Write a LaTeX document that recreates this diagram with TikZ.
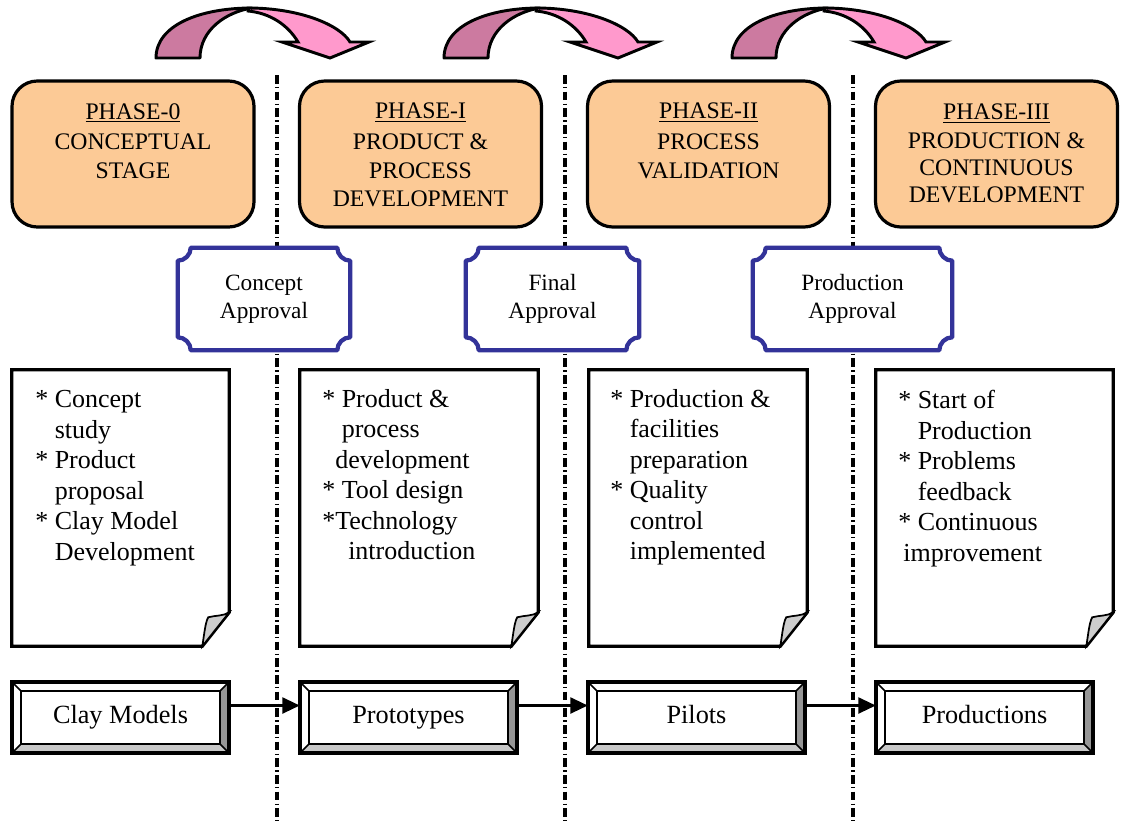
\documentclass[tikz,border=0pt]{standalone}
\usepackage{fontspec}
\setmainfont{Liberation Serif}
\usetikzlibrary{arrows.meta,calc}
\definecolor{peach}{RGB}{252,202,150}
\definecolor{plqblue}{RGB}{51,51,153}
\definecolor{pinklight}{RGB}{255,153,204}
\definecolor{pinkdark}{RGB}{204,122,160}
\definecolor{bevR}{RGB}{150,150,150}
\definecolor{bevB}{RGB}{200,200,200}
\definecolor{flapgray}{RGB}{205,205,205}
\tikzset{
  phasebox/.style={draw=black,line width=2.4pt,fill=peach,rounded corners=19pt,
    minimum width=0.75*242pt,minimum height=0.75*146pt,inner sep=0pt},
  phasetext/.style={anchor=north,inner sep=0pt,align=center,
    font=\fontsize{17.8}{21.2}\selectfont},
  apprnode/.style={inner sep=0pt,align=center,minimum height=0.75*102pt,
    font=\fontsize{17.5}{21}\selectfont},
  plq/.style={draw=plqblue,line width=3.2pt,fill=white,line join=round},
  docnode/.style={inner sep=0pt,minimum height=0.75*276pt},
  docline/.style={draw=black,line width=2.4pt,fill=white,line join=miter},
  flap/.style={draw=black,line width=1.3pt,fill=flapgray},
  doctext/.style={anchor=north west,inner sep=0pt,align=left,
    font=\fontsize{19.5}{22.9}\selectfont},
  bevnode/.style={inner sep=0pt,minimum width=0.75*217pt,minimum height=0.75*71pt,
    text height=12pt,text depth=3.75pt,
    font=\fontsize{19.7}{22}\selectfont},
  sepline/.style={line width=2.6pt,dash pattern=on 6.5pt off 2.4pt on 1.2pt off 2.4pt},
  flowarrow/.style={line width=1.6pt,-{Triangle[length=13pt,width=12pt]}},
  arrowdark/.style={draw=black,line width=2.2pt,fill=pinkdark,line join=round},
  arrowlight/.style={draw=black,line width=2.2pt,fill=pinklight,line join=miter},
}
\newcommand\plaque[1]{%
  \path[plq] ($(#1.north west)+(13,0)$) -- ($(#1.north east)+(-13,0)$)
   .. controls ($(#1.north east)+(-13,7)$) and ($(#1.north east)+(-7,13)$) .. ($(#1.north east)+(0,13)$)
   -- ($(#1.south east)+(0,-13)$)
   .. controls ($(#1.south east)+(-7,-13)$) and ($(#1.south east)+(-13,-7)$) .. ($(#1.south east)+(-13,0)$)
   -- ($(#1.south west)+(13,0)$)
   .. controls ($(#1.south west)+(13,-7)$) and ($(#1.south west)+(7,-13)$) .. ($(#1.south west)+(0,-13)$)
   -- ($(#1.north west)+(0,13)$)
   .. controls ($(#1.north west)+(7,13)$) and ($(#1.north west)+(13,7)$) .. ($(#1.north west)+(13,0)$) -- cycle;}
\newcommand\docshape[1]{%
  \path[docline] (#1.north west) -- (#1.north east) -- ($(#1.south east)+(0,-34)$)
    -- ($(#1.south east)+(-27,0)$) -- (#1.south west) -- cycle;
  \path[flap] ($(#1.south east)+(-27,0)$) .. controls ($(#1.south east)+(-25,-12)$) and ($(#1.south east)+(-24,-24)$) ..
    ($(#1.south east)+(-21,-29)$) .. controls ($(#1.south east)+(-14,-31)$) and ($(#1.south east)+(-6,-30)$) ..
    ($(#1.south east)+(0,-34)$) -- cycle;}
\newcommand\bevel[1]{%
  \fill[bevR] (#1.north east) -- (#1.south east) -- ($(#1.south east)+(-9,-9)$) -- ($(#1.north east)+(-9,9)$) -- cycle;
  \fill[bevB] (#1.south west) -- (#1.south east) -- ($(#1.south east)+(-9,-9)$) -- ($(#1.south west)+(9,-9)$) -- cycle;
  \draw[line width=1.7pt] ($(#1.north west)+(9,9)$) rectangle ($(#1.south east)+(-9,-9)$);
  \draw[line width=1.1pt] (#1.north west) -- ($(#1.north west)+(9,9)$)
     (#1.north east) -- ($(#1.north east)+(-9,9)$)
     (#1.south west) -- ($(#1.south west)+(9,-9)$)
     (#1.south east) -- ($(#1.south east)+(-9,-9)$);
  \draw[line width=2.8pt] (#1.north west) rectangle (#1.south east);}
\newcommand\curvedarrow[1]{%
  \begin{scope}[shift={(#1,0)}]
   \path[arrowdark] (156,58) .. controls (156,25) and (200,8) .. (252,8)
      .. controls (226,12) and (200,30) .. (200,58) -- cycle;
   \path[arrowlight] (248,8) .. controls (300,8) and (340,25) .. (350,42) -- (369,42) -- (330,58)
      -- (282,42) -- (298,42) .. controls (288,25) and (270,13) .. (248,11) -- cycle;
  \end{scope}}
\begin{document}
\begin{tikzpicture}[x=0.75pt,y=-0.75pt]
\useasboundingbox (0,0) rectangle (1131,821);
% separator lines
\foreach \i/\xx in {1/277,2/565,3/853}{
  \coordinate (s\i t) at (\xx,75);
  \coordinate (s\i b) at (\xx,821);
  \draw[sepline] (s\i t) -- (s\i b);
}
% curved arrows
\curvedarrow{0}
\curvedarrow{288}
\curvedarrow{576}
% phase boxes
\node[phasebox] (p0) at (133,154) {};
\node[phasebox] (p1) at (420.5,154) {};
\node[phasebox] (p2) at (708.5,154) {};
\node[phasebox] (p3) at (996.5,154) {};
\node[phasetext] (t0) at (133,103) {\underline{PHASE-0}\\[2pt]CONCEPTUAL\\STAGE};
\node[phasetext] (t1) at (420.5,103) {\underline{PHASE-I}\\[2pt]PRODUCT \&\\PROCESS\\DEVELOPMENT};
\node[phasetext] (t2) at (708.5,103) {\underline{PHASE-II}\\[2pt]PROCESS\\VALIDATION};
\node[phasetext,font=\fontsize{17.8}{20.3}\selectfont] (t3) at (996.5,104) {\underline{PHASE-III}\\[1pt]PRODUCTION \&\\CONTINUOUS\\DEVELOPMENT};
% approvals
\node[apprnode,minimum width=0.75*172pt] (a1) at (264,299) {};
\plaque{a1}
\node[apprnode] at (a1) {Concept\\Approval};
\node[apprnode,minimum width=0.75*173pt] (a2) at (552.5,299) {};
\plaque{a2}
\node[apprnode] at (a2) {Final\\Approval};
\node[apprnode,minimum width=0.75*199pt] (a3) at (852.5,299) {};
\plaque{a3}
\node[apprnode] at (a3) {Production\\Approval};
% documents
\node[docnode,minimum width=0.75*217pt] (d0) at (120.5,508) {};
\docshape{d0}
\node[doctext] (dt0) at (35,390) {* Concept\\\phantom{* }study\\* Product\\\phantom{* }proposal\\* Clay Model\\\phantom{* }Development};
\node[docnode,minimum width=0.75*238pt] (d1) at (419,508) {};
\docshape{d1}
\node[doctext] (dt1) at (322,389) {* Product \&\\\phantom{* }process\\\phantom{*}development\\* Tool design\\*Technology\\\hspace*{1em}introduction};
\node[docnode,minimum width=0.75*218pt] (d2) at (698,508) {};
\docshape{d2}
\node[doctext] (dt2) at (610,389) {* Production \&\\\phantom{* }facilities\\\phantom{* }preparation\\* Quality\\\phantom{* }control\\\phantom{* }implemented};
\node[docnode,minimum width=0.75*237pt] (d3) at (994.5,508) {};
\docshape{d3}
\node[doctext] (dt3) at (898,390) {* Start of\\\phantom{* }Production\\* Problems\\\phantom{* }feedback\\* Continuous\\\hspace*{0.2em}improvement};
% bevel boxes
\node[bevnode,fill=white] (b0) at (120.5,717.5) {Clay Models};
\bevel{b0}
\node[bevnode,fill=white] (b1) at (408.5,717.5) {Prototypes};
\bevel{b1}
\node[bevnode,fill=white] (b2) at (696.5,717.5) {Pilots};
\bevel{b2}
\node[bevnode,fill=white] (b3) at (984.5,717.5) {Productions};
\bevel{b3}
\draw[flowarrow] ([yshift=9pt]b0.east) -- ([yshift=9pt]b1.west);
\draw[flowarrow] ([yshift=9pt]b1.east) -- ([yshift=9pt]b2.west);
\draw[flowarrow] ([yshift=9pt]b2.east) -- ([yshift=9pt]b3.west);
\end{tikzpicture}
\end{document}
